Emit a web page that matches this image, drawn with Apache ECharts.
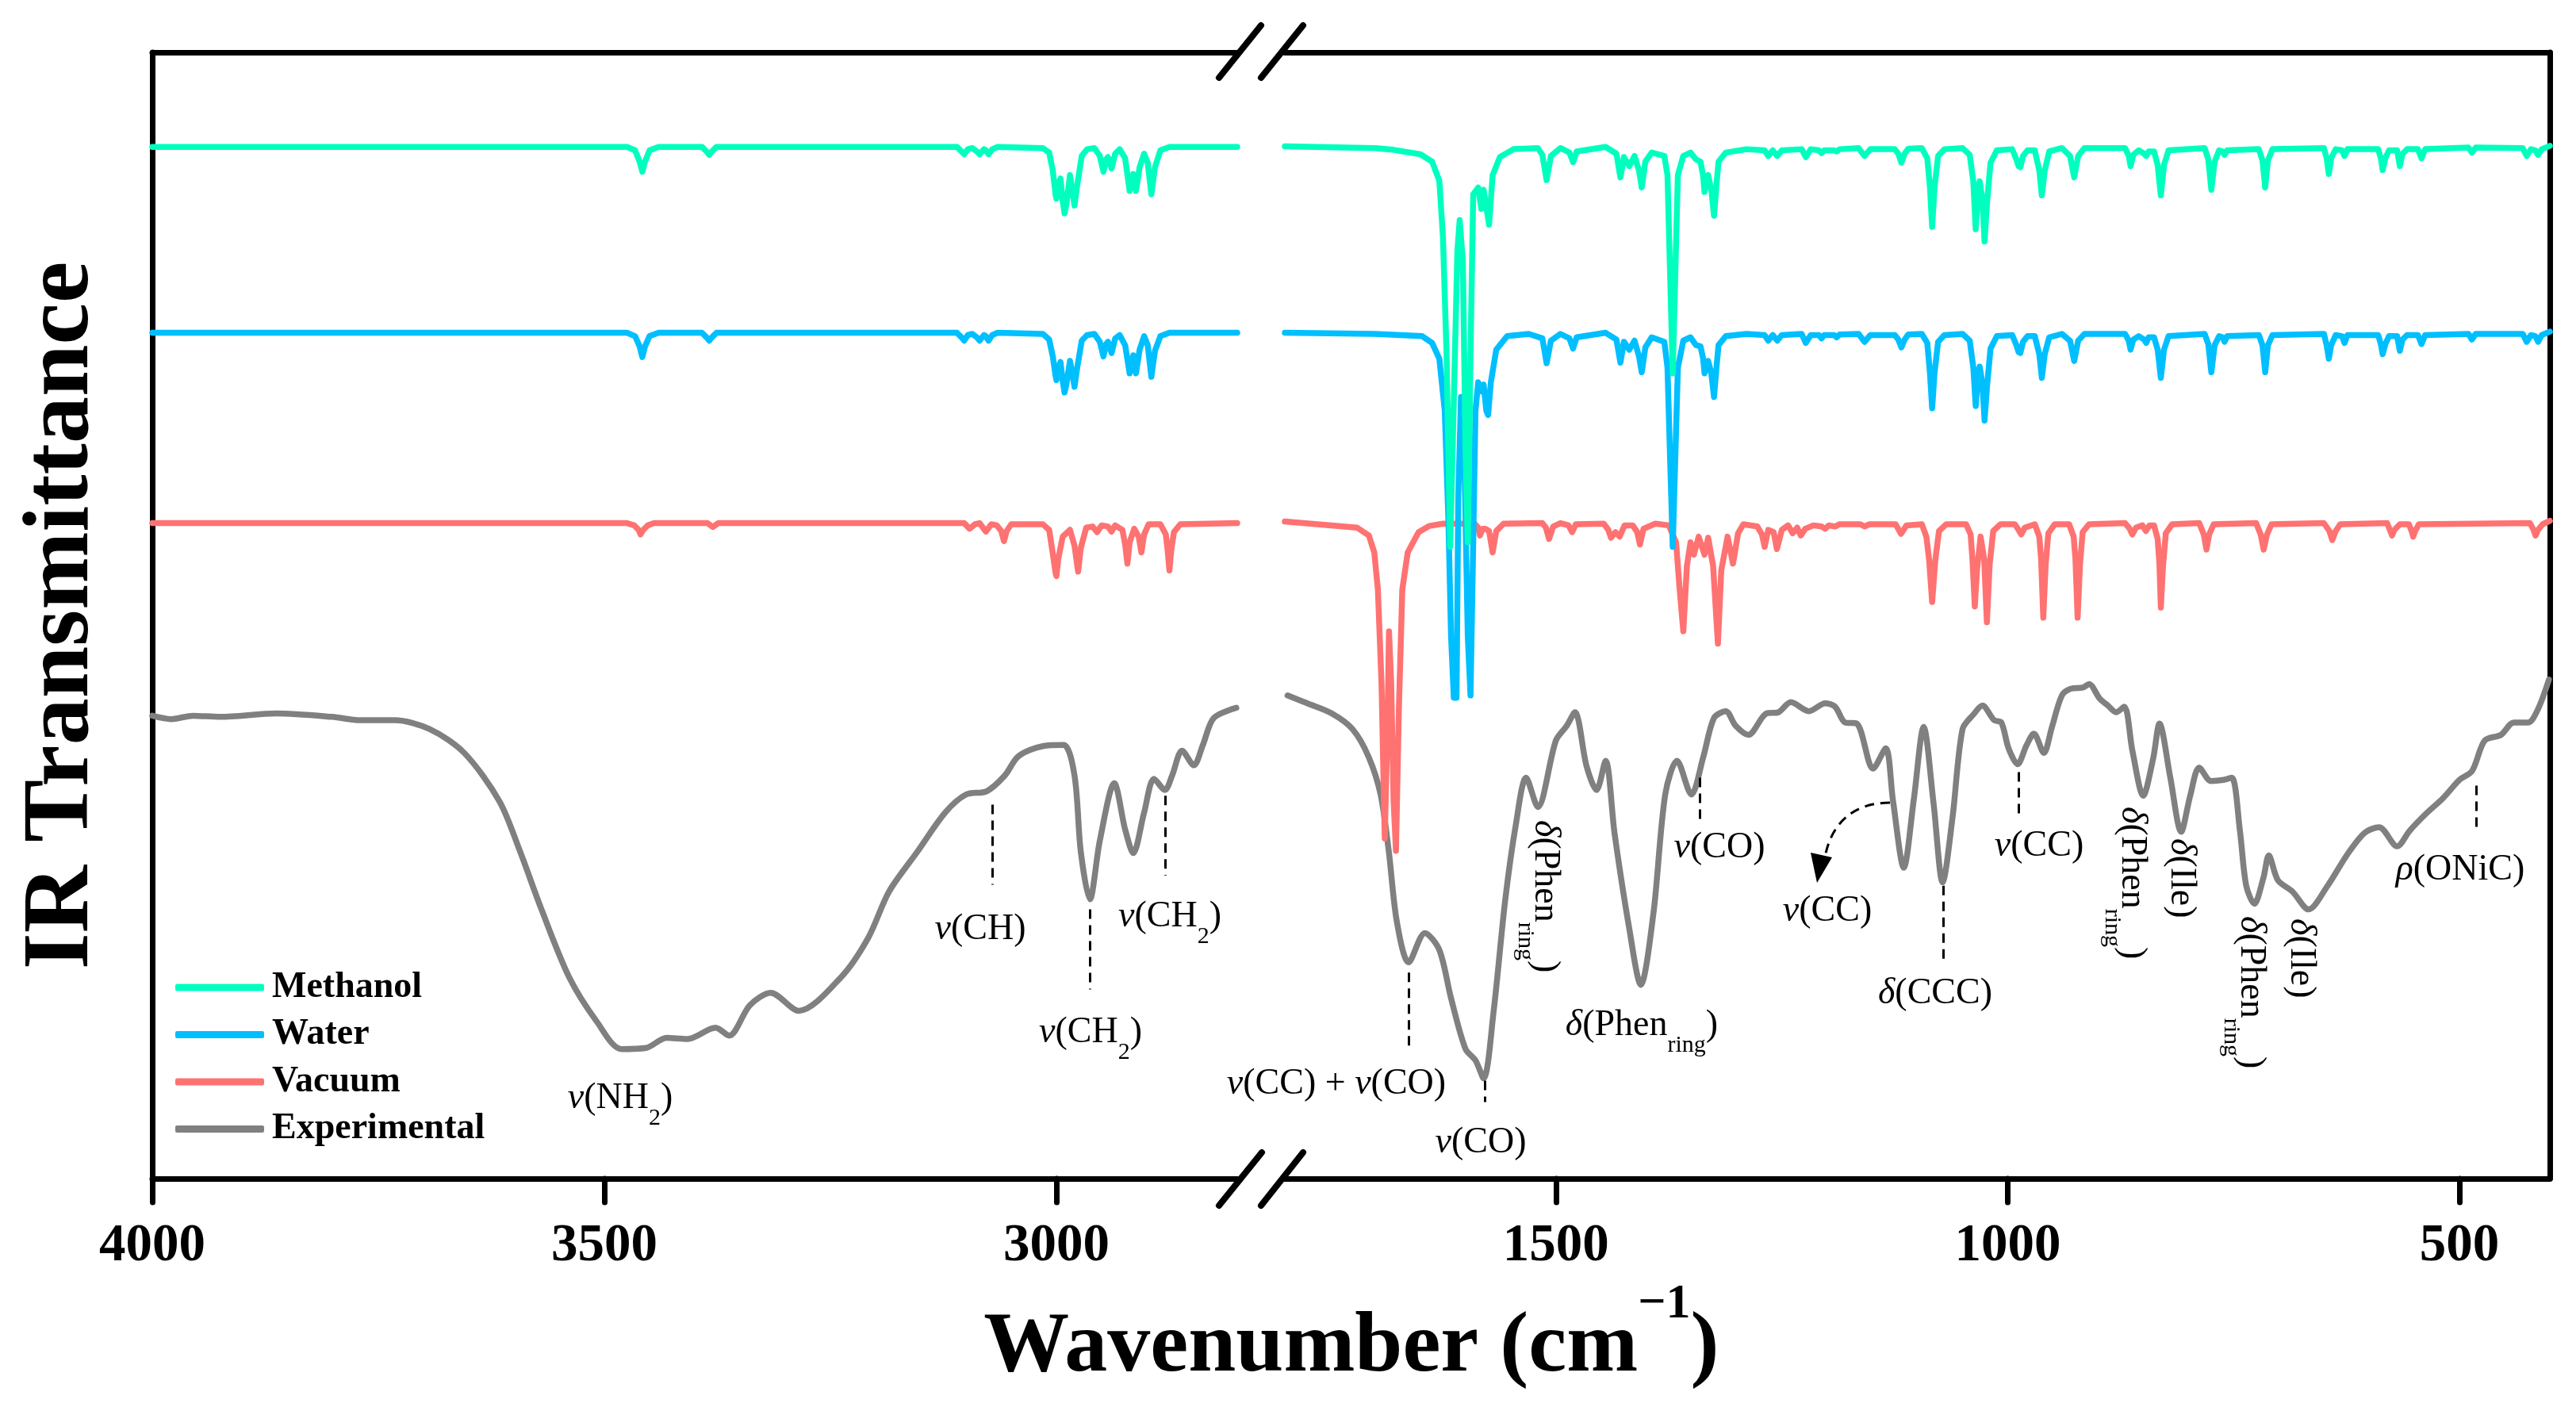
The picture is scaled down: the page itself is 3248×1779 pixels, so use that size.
<!DOCTYPE html>
<html><head><meta charset="utf-8">
<script src="https://cdn.jsdelivr.net/npm/echarts@6/dist/echarts.min.js"></script>
<style>html,body{margin:0;padding:0;background:#fff}#c{width:3248px;height:1779px}</style>
</head><body><div id="c"></div>
<script>
// ---------- data (wavenumber cm-1, transmittance in arbitrary offset units) ----------
const seriesNames = ['Methanol', 'Water', 'Vacuum', 'Experimental'];
const ticksLeft = [4000, 3500, 3000];
const ticksRight = [1500, 1000, 500];

const methanolLeft = [[4000,91.6],[3475,91.6],[3466,91.3],[3461,90.3],[3458,89.4],[3455,90.3],[3450,91.3],[3440,91.6],[3392,91.6],[3387,91.2],[3384,90.9],[3381,91.2],[3376,91.6],[3110,91.6],[3105,91.2],[3102,90.95],[3098,91.4],[3093,91.5],[3088,91.2],[3085,90.95],[3080,91.4],[3078,91.3],[3075,90.95],[3071,91.4],[3065,91.6],[3015,91.5],[3008,91.1],[3004,89.5],[3001,87.4],[3000,87.0],[2997,88.5],[2995.5,88.8],[2993,86.8],[2991,85.7],[2989,86.5],[2985,89.1],[2982,87.5],[2980,86.4],[2977,88.2],[2972,90.8],[2966,91.4],[2958,91.5],[2952,90.8],[2948,89.4],[2945,90.5],[2943,90.7],[2939,89.7],[2935,91.0],[2930,91.4],[2924,90.6],[2919,87.7],[2915,89.2],[2912,87.7],[2908,89.8],[2903,91.0],[2899,90.2],[2895,87.4],[2891,89.8],[2885,91.3],[2875,91.6],[2800,91.6]];
const waterLeft = [[4000,75.1],[3475,75.1],[3466,74.8],[3461,73.9],[3458,72.95],[3455,73.9],[3450,74.8],[3440,75.1],[3392,75.1],[3387,74.7],[3384,74.4],[3381,74.7],[3376,75.1],[3110,75.1],[3105,74.7],[3102,74.4],[3098,74.9],[3093,75.0],[3088,74.7],[3085,74.4],[3080,74.9],[3078,74.8],[3075,74.4],[3071,74.9],[3065,75.1],[3015,75.0],[3008,74.5],[3004,73.0],[3001,71.3],[3000,70.9],[2997,72.2],[2995.5,72.5],[2993,70.8],[2991,69.8],[2989,70.5],[2985,72.6],[2982,71.3],[2980,70.3],[2977,72.0],[2972,74.4],[2966,74.9],[2958,75.0],[2952,74.3],[2948,73.0],[2945,74.1],[2943,74.3],[2939,73.3],[2935,74.6],[2930,74.9],[2924,74.0],[2919,71.5],[2915,73.1],[2912,71.5],[2908,73.6],[2903,74.8],[2899,74.0],[2895,71.2],[2891,73.5],[2885,74.8],[2875,75.1],[2800,75.1]];
const vacuumLeft = [[4000,58.2],[3475,58.2],[3467,58.0],[3462,57.6],[3460,57.2],[3457,57.6],[3452,58.0],[3445,58.2],[3386,58.2],[3380,57.85],[3374,58.2],[3102,58.2],[3096,57.7],[3090,58.1],[3085,58.2],[3078,57.45],[3072,58.1],[3066,58.0],[3061,57.5],[3058,56.6],[3055,57.5],[3050,58.1],[3015,58.1],[3008,57.6],[3004,55.5],[3001,53.8],[3000,53.5],[2998,55.0],[2993,57.0],[2985,57.6],[2980,56.2],[2976,53.9],[2973,56.0],[2967,57.8],[2960,57.9],[2955,57.4],[2950,58.0],[2943,57.9],[2939,57.45],[2935,58.0],[2927,57.6],[2924,56.3],[2921.5,54.6],[2919,56.5],[2914,57.7],[2909,57.0],[2906,55.6],[2903,57.2],[2898,58.1],[2885,58.1],[2879,57.2],[2877,55.8],[2875,54.0],[2873,55.8],[2870,57.4],[2863,58.1],[2800,58.2]];
const experimentalLeft = [[4000,41.1],[3979,40.8],[3955,41.1],[3925,41.0],[3863,41.3],[3801,41.0],[3770,40.7],[3732,40.7],[3693,39.9],[3655,37.8],[3616,33.5],[3593,29.0],[3570,24.0],[3539,17.9],[3508,13.9],[3481,11.5],[3454,11.6],[3431,12.5],[3408,12.4],[3377,13.4],[3362,12.7],[3339,15.4],[3316,16.5],[3285,14.9],[3238,17.9],[3208,21.4],[3185,25.5],[3154,29.0],[3123,32.5],[3100,34.1],[3077,34.4],[3057,35.8],[3042,37.5],[3015,38.4],[2992,38.5],[2980,35.8],[2973,29.0],[2963,24.8],[2952,30.0],[2936,35.1],[2924,31.0],[2915,28.9],[2903,32.5],[2892,35.5],[2880,34.5],[2872,35.8],[2861,38.0],[2848,36.7],[2838,38.5],[2826,40.9],[2801,41.8]];

const methanolRight = [[1800,91.65],[1700,91.5],[1680,91.35],[1650,90.95],[1637,90.3],[1629,88.6],[1625,83.6],[1621,73.2],[1617,56.1],[1613,69.0],[1609,82.4],[1606.5,85.1],[1603,81.5],[1600,64.8],[1597.5,56.5],[1594.5,73.2],[1591.5,87.4],[1586,88.0],[1582.5,86.1],[1580,87.8],[1574,84.7],[1570,89.1],[1562,90.7],[1547,91.4],[1520,91.5],[1515,90.9],[1510.3,88.65],[1505.5,90.8],[1495,91.5],[1485,91.1],[1481,90.25],[1477,91.2],[1445,91.6],[1433,91.0],[1428.6,88.9],[1424.7,90.7],[1418.8,89.9],[1413,90.8],[1408,89.5],[1405,88.0],[1401,90.3],[1394,91.1],[1380,90.8],[1376.5,89.1],[1374,81.5],[1370.7,71.5],[1367.5,81.5],[1365,89.1],[1359,90.8],[1351,91.1],[1345,90.5],[1340,90.3],[1337,89.0],[1335.5,87.6],[1331.5,89.1],[1328,87.8],[1325,85.5],[1322,88.5],[1320,90.3],[1312,91.1],[1289,91.4],[1269,91.3],[1265,90.8],[1260,91.3],[1255,90.8],[1250,91.3],[1228,91.4],[1223.4,90.7],[1218,91.4],[1209,91.3],[1206,91.05],[1203,91.3],[1192,91.3],[1189.3,91.2],[1186,91.4],[1165,91.5],[1158.4,90.8],[1152,91.4],[1125,91.4],[1121,91.0],[1117.7,90.2],[1114,91.0],[1110,91.45],[1095,91.5],[1089,90.6],[1086,88.0],[1083.6,84.5],[1081,88.0],[1077,90.8],[1070,91.4],[1050,91.5],[1042,90.9],[1038,88.5],[1035.4,84.3],[1033,87.5],[1031,88.55],[1028,87.0],[1025.6,83.2],[1023,86.5],[1019,90.2],[1012,91.3],[995,91.4],[990.4,90.5],[988,89.9],[986,89.8],[983,90.8],[978,91.3],[970,91.3],[965,89.5],[962.2,87.3],[959,89.5],[954,91.2],[940,91.5],[931,90.8],[926.4,88.9],[922,90.8],[915,91.5],[870,91.5],[866,90.8],[864,89.9],[861,90.9],[855,91.3],[849,91.0],[846.7,90.8],[844,91.2],[838,91.2],[834,90.0],[830.5,87.3],[827,90.0],[822,91.3],[782,91.5],[778,90.5],[774.6,87.8],[771,90.3],[766,91.3],[762,91.2],[760,90.9],[757,91.3],[722,91.4],[718,90.4],[715,88.0],[712,90.4],[707,91.4],[650,91.5],[647,90.6],[644.6,89.2],[642,90.6],[637,91.4],[630,91.3],[627.2,90.8],[624,91.4],[590,91.4],[587,90.6],[585,89.55],[582,90.6],[578,91.3],[569,91.3],[566,89.9],[563,91.0],[558,91.4],[546,91.4],[542,90.6],[538,91.4],[490,91.55],[486.3,91.1],[482,91.55],[430,91.5],[425.6,90.8],[421,91.4],[416,91.3],[413,90.9],[409,91.4],[400,91.7]];
const waterRight = [[1800,75.1],[1700,75.0],[1648,74.8],[1637,74.2],[1629,72.8],[1623,68.2],[1619,58.6],[1616,48.1],[1613,42.7],[1610,42.7],[1608,60.7],[1605,69.4],[1601.5,64.8],[1597.5,48.1],[1594.5,42.9],[1591.5,56.5],[1589,68.2],[1586,70.7],[1582.5,69.9],[1580,70.5],[1577,68.2],[1575,67.8],[1572,70.7],[1566,73.6],[1554,74.8],[1530,75.0],[1515,74.6],[1510.3,72.4],[1505.5,74.4],[1495,75.0],[1485,74.6],[1481,73.7],[1477,74.7],[1445,75.1],[1433,74.5],[1428.6,72.45],[1424.7,74.3],[1418.8,73.6],[1413,74.4],[1408,73.0],[1405,71.6],[1401,73.8],[1394,74.7],[1380,74.3],[1376.5,72.0],[1374,65.0],[1370.7,56.1],[1367.5,65.0],[1365,72.0],[1359,74.4],[1351,74.7],[1345,74.0],[1340,73.9],[1337,72.8],[1335.5,71.5],[1331.5,72.6],[1328,71.5],[1325,69.4],[1322,72.3],[1320,74.0],[1312,74.8],[1289,75.0],[1269,74.9],[1265,74.4],[1260,74.9],[1255,74.4],[1250,74.9],[1228,75.0],[1223.4,74.2],[1218,74.9],[1209,74.9],[1206,74.6],[1203,74.9],[1192,74.9],[1189.3,74.7],[1186,74.95],[1165,75.0],[1158.4,74.3],[1152,74.9],[1125,74.9],[1121,74.5],[1117.7,73.8],[1114,74.5],[1110,74.95],[1095,75.0],[1089,74.2],[1086,71.5],[1083.6,68.4],[1081,71.5],[1077,74.3],[1070,74.9],[1050,75.0],[1042,74.4],[1038,72.0],[1035.4,68.6],[1033,71.2],[1031,72.1],[1028,70.6],[1025.6,67.3],[1023,70.2],[1019,73.7],[1012,74.8],[995,74.9],[990.4,74.0],[988,73.4],[986,73.3],[983,74.3],[978,74.8],[970,74.8],[965,73.2],[962.2,71.1],[959,73.2],[954,74.7],[940,75.0],[931,74.4],[926.4,72.6],[922,74.4],[915,75.0],[870,75.0],[866,74.4],[864,73.6],[861,74.5],[855,74.8],[849,74.5],[846.7,74.2],[844,74.7],[838,74.7],[834,73.6],[830.5,71.1],[827,73.6],[822,74.8],[782,75.0],[778,74.1],[774.6,71.6],[771,74.0],[766,74.8],[762,74.7],[760,74.3],[757,74.8],[722,74.9],[718,74.0],[715,71.6],[712,74.0],[707,74.9],[650,75.0],[647,74.0],[644.6,72.8],[642,74.0],[637,74.9],[630,74.8],[627.2,74.2],[624,74.9],[590,74.9],[587,74.1],[585,73.2],[582,74.1],[578,74.8],[569,74.8],[566,73.5],[563,74.5],[558,74.9],[546,74.9],[542,74.1],[538,74.9],[490,75.0],[486.3,74.5],[482,75.0],[430,75.0],[425.6,74.3],[421,74.9],[416,74.8],[413,74.3],[409,74.9],[400,75.2]];
const vacuumRight = [[1800,58.35],[1720,57.8],[1707,57.1],[1701,55.6],[1697,52.3],[1693,44.0],[1689.4,30.2],[1686.5,39.8],[1684.7,48.6],[1682.3,44.0],[1679.6,33.5],[1677,29.1],[1673.7,41.9],[1670,52.3],[1664,55.6],[1652,57.4],[1640,57.95],[1625,58.15],[1590,58.15],[1586,57.8],[1584,57.1],[1581,57.7],[1578,57.7],[1574,57.5],[1570,55.6],[1566,57.5],[1558,58.15],[1515,58.2],[1511,57.8],[1507.6,56.8],[1503,57.9],[1495,58.2],[1486,58.0],[1482,57.4],[1478,58.1],[1447,58.15],[1442,57.6],[1439,56.9],[1434,57.4],[1429.5,57.0],[1424,58.0],[1415,58.0],[1410,57.4],[1407,56.3],[1403,57.7],[1390,58.15],[1375,58.0],[1367,56.5],[1363,52.3],[1359,48.6],[1355,54.4],[1351,56.5],[1347.3,55.4],[1342,57.0],[1335.5,55.4],[1331.5,56.9],[1326,54.4],[1320.7,47.5],[1317,54.0],[1310,57.0],[1304,54.6],[1298.4,57.3],[1292.5,58.1],[1277,57.9],[1272,57.2],[1269,56.1],[1265,57.6],[1259,57.4],[1255.4,55.9],[1250,57.6],[1243,58.0],[1238,57.3],[1233,57.8],[1229,57.1],[1224,57.7],[1215,58.0],[1206,57.9],[1202,57.7],[1198,58.0],[1191,57.9],[1186,58.1],[1163,58.1],[1158.4,57.9],[1153,58.1],[1124,58.1],[1118,57.25],[1112,58.0],[1095,58.1],[1090,57.0],[1087,55.0],[1083.6,51.2],[1080,55.0],[1076,57.5],[1068,58.1],[1046,58.1],[1041,57.2],[1039,55.0],[1036.4,50.8],[1034,54.0],[1030,57.0],[1028.3,57.1],[1026,55.0],[1023,49.4],[1020,54.5],[1016,57.5],[1008,58.1],[992,58.1],[988,57.6],[985,57.2],[981,57.8],[970,58.1],[965,57.0],[963,55.0],[960.6,49.8],[958,54.5],[955,57.3],[948,58.1],[932,58.1],[927,57.0],[925,55.0],[922.6,49.8],[920,54.5],[917,57.4],[910,58.1],[870,58.2],[865,57.7],[862,57.2],[858,57.8],[851,58.0],[847,57.5],[843,58.0],[838,58.0],[834,56.8],[832,54.5],[830.5,50.7],[828,54.5],[825,57.3],[818,58.1],[788,58.2],[783,57.2],[780,55.85],[777,57.2],[772,58.1],[725,58.2],[720,57.2],[716.7,55.85],[713,57.2],[708,58.1],[650,58.2],[644,57.5],[640.8,56.7],[637,57.5],[632,58.1],[580,58.2],[577,57.6],[574.6,57.1],[572,57.6],[566,58.1],[556,58.1],[553,57.5],[551.3,57.0],[549,57.5],[545,58.1],[422,58.2],[418,57.6],[415.8,57.1],[413,57.6],[408,58.1],[400,58.4]];
const experimentalRight = [[1797,42.9],[1775,42.2],[1748,41.3],[1725,39.9],[1707,37.4],[1694,34.1],[1685,29.1],[1676,22.8],[1663,19.2],[1645,21.8],[1629,20.3],[1616,16.0],[1600,11.5],[1589,10.5],[1580,8.9],[1569,14.8],[1556,24.8],[1544,31.6],[1533,35.6],[1520,33.0],[1500,38.9],[1488,40.2],[1479,41.4],[1466,36.6],[1455,34.5],[1445,37.1],[1435,30.6],[1419,22.3],[1406,17.2],[1392,23.6],[1379,34.1],[1366,37.1],[1350,34.1],[1337,37.4],[1325,40.9],[1312,41.5],[1301,40.2],[1287,39.4],[1267,41.3],[1254,41.4],[1240,42.3],[1220,41.5],[1202,42.2],[1191,41.9],[1180,40.5],[1167,40.4],[1149,36.4],[1135,38.2],[1127,33.6],[1115,27.6],[1104,33.6],[1093,40.1],[1082,33.3],[1072,26.3],[1061,32.1],[1050,39.9],[1038,41.2],[1028,42.0],[1015,40.7],[1007,40.5],[999,38.2],[989,36.8],[979,38.5],[971,39.5],[960,37.8],[951,40.1],[940,42.9],[930,43.5],[917,43.6],[910,43.9],[898,42.6],[889,42.0],[880,41.4],[871,41.9],[862,38.0],[850,34.0],[839,37.3],[832,40.4],[820,35.6],[808,30.8],[798,34.0],[788,36.5],[775,35.3],[761,35.4],[752,35.6],[743,30.9],[736,26.0],[727,24.4],[717,26.7],[711,28.7],[701,26.5],[685,25.5],[667,23.9],[646,26.0],[624,28.8],[605,30.7],[589,31.2],[569,29.5],[555,30.9],[537,32.4],[518,33.8],[500,35.4],[486,36.2],[472,38.9],[454,39.4],[440,40.5],[424,40.5],[413,41.7],[401,44.3]];

// dashed guide lines [wavenumber, from, to]
const guidesLeft = [[3071,33.2,26.1],[2962.6,23.9,16.8],[2880,34.0,26.9]];
const guidesRight = [[1663,18.3,11.3],[1579,8.7,6.8],[1341,35.6,31.6],[1071.6,26.0,19.2],[987.7,36.1,32.1],[481.5,34.9,30.9]];

// ---------- styling ----------
const COLORS = {Methanol:'#00FFBF', Water:'#00BFFF', Vacuum:'#FF7272', Experimental:'#808080'};
const FF = '"Liberation Serif", "Times New Roman", serif';
const LW = 7.5;

const chart = echarts.init(document.getElementById('c'), null, {renderer:'canvas'});

function axisX(grid, min, max, ticks, pos) {
  const bottom = pos === 'bottom';
  return {
    type:'value', gridIndex:grid, min:min, max:max, inverse:true, position:pos,
    axisLine:{show:true, onZero:false, lineStyle:{color:'#000', width:7}},
    axisTick:{show:bottom, customValues:ticks, length:30, inside:false, lineStyle:{color:'#000', width:7, cap:'round'}},
    axisLabel:{show:bottom, customValues:ticks, margin:52, color:'#000', fontFamily:FF, fontWeight:'bold', fontSize:67,
      formatter:function (v) { return String(v); }},
    splitLine:{show:false}, minorTick:{show:false}
  };
}
function axisY(grid, pos) {
  return {
    type:'value', gridIndex:grid, min:0, max:100, position:pos,
    axisLine:{show:true, onZero:false, lineStyle:{color:'#000', width:7}},
    axisTick:{show:false}, axisLabel:{show:false}, splitLine:{show:false}
  };
}
function guideLines(list) {
  return {
    silent:true, symbol:['none','none'], animation:false,
    label:{show:false},
    lineStyle:{color:'#000', width:3, type:[12,8]},
    emphasis:{disabled:true},
    data:list.map(g => [{coord:[g[0], g[1]]}, {coord:[g[0], g[2]]}])
  };
}
function line(name, data, idx, extra) {
  const s = {
    name:name, type:'line', xAxisIndex:idx, yAxisIndex:idx, data:data,
    showSymbol:false, symbol:'none', smooth:false, animation:false, silent:true,
    color:COLORS[name],
    lineStyle:{color:COLORS[name], width:LW, cap:'round', join:'round'},
    emphasis:{disabled:true}
  };
  if (extra) { s.markLine = extra; s.smooth = 0.3; }
  return s;
}

const rich = {
  g:{fontFamily:FF, fontStyle:'italic', fontSize:46, lineHeight:46, verticalAlign:'top', fill:'#000'},
  n:{fontFamily:FF, fontSize:46, lineHeight:46, verticalAlign:'top', fill:'#000'},
  s:{fontFamily:FF, fontSize:30, lineHeight:63, verticalAlign:'bottom', fill:'#000'}
};
function ann(text, cx, cy) {
  return {type:'text', x:cx, y:cy - 23, silent:true,
    style:{text:text, rich:rich, align:'center', verticalAlign:'top', fill:'#000', fontFamily:FF, fontSize:46}};
}
function annRot(text, cx, top) {
  return {type:'text', x:cx + 23, y:top, rotation:-Math.PI/2, silent:true,
    style:{text:text, rich:rich, align:'left', verticalAlign:'top', fill:'#000', fontFamily:FF, fontSize:46}};
}
const PHEN = '{g|δ}{n|(Phen}{s|ring}{n|)}';
const graphics = [
  // axis titles
  {type:'text', x:80, y:776, rotation:Math.PI/2, silent:true,
    style:{text:'IR Transmittance', fontFamily:FF, fontWeight:'bold', fontSize:118, fill:'#000', align:'center', verticalAlign:'middle'}},
  {type:'text', x:1704, y:1614, silent:true,
    style:{text:'{m|Wavenumber (cm}{p|−1}{m|)}{z| }', align:'center', verticalAlign:'top', fill:'#000',
      rich:{
        m:{fontFamily:FF, fontWeight:'bold', fontSize:108, lineHeight:108, verticalAlign:'bottom', fill:'#000'},
        p:{fontFamily:FF, fontWeight:'bold', fontSize:62, lineHeight:62, verticalAlign:'top', fill:'#000'},
        z:{fontSize:1, lineHeight:140, verticalAlign:'top'}
      }}},
  // axis break marks
  {type:'line', silent:true, shape:{x1:1537,y1:98,x2:1590,y2:32}, style:{stroke:'#000', lineWidth:8, lineCap:'round'}},
  {type:'line', silent:true, shape:{x1:1590,y1:98,x2:1643,y2:32}, style:{stroke:'#000', lineWidth:8, lineCap:'round'}},
  {type:'line', silent:true, shape:{x1:1537,y1:1520,x2:1591,y2:1453}, style:{stroke:'#000', lineWidth:8, lineCap:'round'}},
  {type:'line', silent:true, shape:{x1:1590,y1:1520,x2:1643,y2:1453}, style:{stroke:'#000', lineWidth:8, lineCap:'round'}},
  // curved arrow
  {type:'bezierCurve', silent:true, shape:{x1:2383,y1:1012,cpx1:2335,cpy1:1012,cpx2:2310,cpy2:1040,x2:2302,y2:1076},
    style:{stroke:'#000', lineWidth:3, lineDash:[12,8], fill:null}},
  {type:'polygon', silent:true, shape:{points:[[2291,1113],[2283,1075],[2310,1081]]}, style:{fill:'#000'}},
  // annotations
  ann('{g|ν}{n|(NH}{s|2}{n|)}', 782, 1385),
  ann('{g|ν}{n|(CH)}', 1236, 1172),
  ann('{g|ν}{n|(CH}{s|2}{n|)}', 1375, 1302),
  ann('{g|ν}{n|(CH}{s|2}{n|)}', 1475, 1156),
  ann('{g|ν}{n|(CC) + }{g|ν}{n|(CO)}', 1685, 1367),
  ann('{g|ν}{n|(CO)}', 1867, 1441),
  ann(PHEN, 2070, 1293),
  ann('{g|ν}{n|(CO)}', 2168, 1069),
  ann('{g|ν}{n|(CC)}', 2304, 1149),
  ann('{g|δ}{n|(CCC)}', 2440, 1253),
  ann('{g|ν}{n|(CC)}', 2571, 1067),
  ann('{g|ρ}{n|(ONiC)}', 3102, 1097),
  annRot(PHEN, 1948, 1034),
  annRot(PHEN, 2688, 1017),
  annRot('{g|δ}{n|(Ile)}', 2750, 1057),
  annRot(PHEN, 2838, 1155),
  annRot('{g|δ}{n|(Ile)}', 2901, 1158)
];

chart.setOption({
  backgroundColor:'#fff',
  animation:false,
  grid:[
    {left:192, top:66, width:1368, height:1420, containLabel:false},
    {left:1620, top:66, width:1595, height:1420, containLabel:false}
  ],
  xAxis:[
    axisX(0, 2800, 4000, ticksLeft, 'bottom'),
    axisX(1, 400, 1800, ticksRight, 'bottom'),
    axisX(0, 2800, 4000, ticksLeft, 'top'),
    axisX(1, 400, 1800, ticksRight, 'top')
  ],
  yAxis:[axisY(0, 'left'), axisY(1, 'right')],
  legend:{
    data:seriesNames, orient:'vertical', left:221, top:1222, padding:0,
    itemWidth:112, itemHeight:9, itemGap:13.5, icon:'roundRect', selectedMode:false,
    textStyle:{fontFamily:FF, fontWeight:'bold', fontSize:46, lineHeight:46, color:'#000', padding:[0,0,0,5]}
  },
  series:[
    line('Experimental', experimentalLeft, 0, guideLines(guidesLeft)),
    line('Experimental', experimentalRight, 1, guideLines(guidesRight)),
    line('Vacuum', vacuumLeft, 0),
    line('Vacuum', vacuumRight, 1),
    line('Water', waterLeft, 0),
    line('Water', waterRight, 1),
    line('Methanol', methanolLeft, 0),
    line('Methanol', methanolRight, 1)
  ],
  graphic:{elements:graphics}
});
</script>
</body></html>
